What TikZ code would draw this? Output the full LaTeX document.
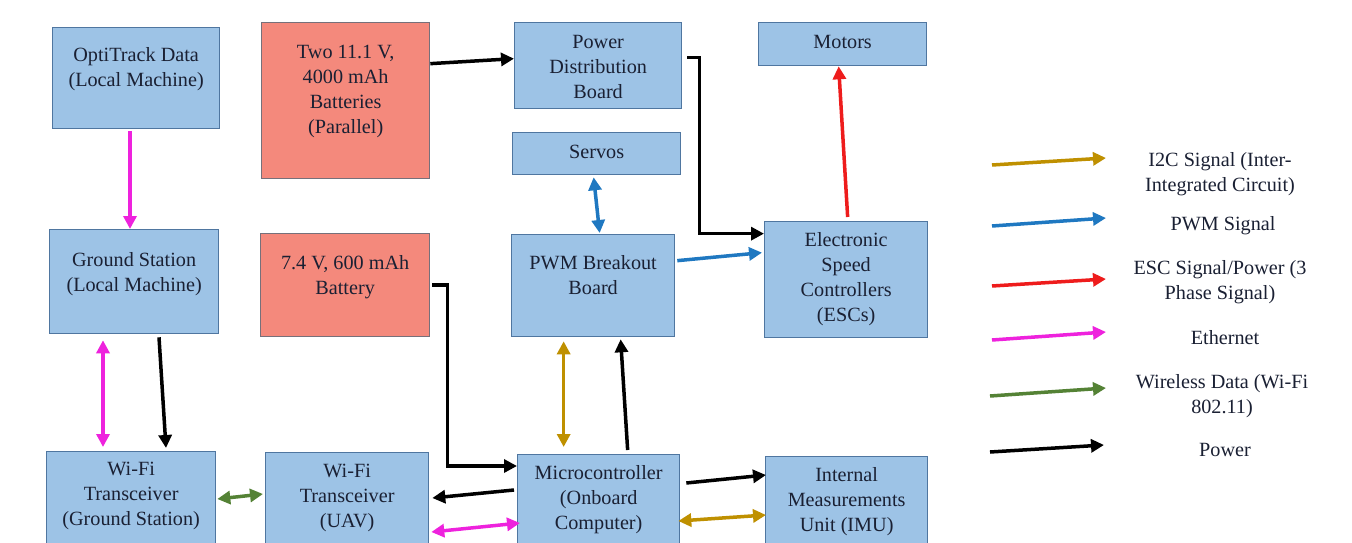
\documentclass[tikz,border=0pt]{standalone}
\usepackage{fontspec}
\setmainfont{Liberation Serif}
\newfontfamily\diagfont{Liberation Serif}
\usetikzlibrary{arrows.meta}

\definecolor{boxblue}{HTML}{9DC3E6}
\definecolor{boxedge}{HTML}{4F76A0}
\definecolor{battfill}{HTML}{F4897C}
\definecolor{battedge}{HTML}{76707A}
\definecolor{txt}{HTML}{1A2033}
\definecolor{igold}{HTML}{BF9000}
\definecolor{pwmblue}{HTML}{1F78C1}
\definecolor{escred}{HTML}{EE1C1C}
\definecolor{ethmag}{HTML}{EE22DD}
\definecolor{wifigreen}{HTML}{548235}

\tikzset{
  unit/.style={draw=boxedge, fill=boxblue, line width=1.3pt, inner sep=0pt, anchor=north west},
  batt/.style={draw=battedge, fill=battfill, line width=1.3pt, inner sep=0pt, anchor=north west},
  lbl/.style={text=txt, align=center, inner sep=0pt, anchor=north,
    font={\diagfont\fontsize{20.2}{25}\selectfont}},
  tipx/.tip={Triangle[length=13pt,width=13pt]},
  wire/.style={line width=3.5pt, -tipx},
  wire2/.style={line width=3.5pt, tipx-tipx},
  power/.style={wire, draw=black},
  powerpath/.style={power, rounded corners=0pt},
  i2c/.style={wire2, draw=igold},
  pwm/.style={wire, draw=pwmblue},
  pwmdbl/.style={wire2, draw=pwmblue},
  esc/.style={wire, draw=escred},
  eth/.style={wire, draw=ethmag},
  ethdbl/.style={wire2, draw=ethmag},
  wifi/.style={wire2, draw=wifigreen},
}

% box: style, name, x1, y1, x2, y2 (pixel-style coordinates, y downwards)
\newcommand\mkbox[6]{%
  \node[#1, minimum width={(#5-#3)*1pt}, minimum height={(#6-#4)*1pt}]
    (#2) at (#3,-#4) {};}
% caption inside a box: name, offset of first line from the top, text
\newcommand\boxtext[3]{%
  \node[lbl] (#1-t) at ([yshift={(11-#2)*1pt}]#1.north) {\strut #3};}

\begin{document}
\begin{tikzpicture}[x=1pt,y=1pt]
\useasboundingbox (0,0) rectangle (1352,-543);
\clip (0,0) rectangle (1352,-543);
\fill[white] (0,0) rectangle (1352,-543);

% ---- blocks ----
\mkbox{unit}{opti}{52}{27}{219}{128}
\mkbox{batt}{bigbatt}{261}{22}{429}{178}
\mkbox{unit}{pdb}{514}{22}{681}{108}
\mkbox{unit}{motors}{758}{22}{926}{65}
\mkbox{unit}{servos}{512}{132}{680}{174}
\mkbox{unit}{gs}{49}{229}{218}{333}
\mkbox{batt}{smallbatt}{260}{233}{429}{336}
\mkbox{unit}{pwmb}{511}{234}{674}{336}
\mkbox{unit}{escs}{764}{221}{927}{337}
\mkbox{unit}{wgs}{46}{451}{215}{562}
\mkbox{unit}{wuav}{265}{452}{428}{562}
\mkbox{unit}{mcu}{517}{454}{679}{562}
\mkbox{unit}{imu}{765}{456}{927}{562}

\boxtext{opti}{28}{OptiTrack Data\\(Local Machine)}
\boxtext{bigbatt}{30}{Two 11.1 V,\\4000 mAh\\Batteries\\(Parallel)}
\boxtext{pdb}{20}{Power\\Distribution\\Board}
\boxtext{motors}{20}{Motors}
\boxtext{servos}{20}{Servos}
\boxtext{gs}{31}{Ground Station\\(Local Machine)}
\boxtext{smallbatt}{30}{7.4 V, 600 mAh\\Battery}
\boxtext{pwmb}{29}{PWM Breakout\\Board}
\boxtext{escs}{19}{Electronic\\Speed\\Controllers\\(ESCs)}
\boxtext{wgs}{18}{Wi-Fi\\Transceiver\\(Ground Station)}
\boxtext{wuav}{19}{Wi-Fi\\Transceiver\\(UAV)}
\boxtext{mcu}{19}{Microcontroller\\(Onboard\\Computer)}
\boxtext{imu}{19}{Internal\\Measurements\\Unit (IMU)}

% ---- connections ----
\draw[eth] ([xshift=78pt,yshift=-2pt]opti.south west) -- ([xshift=81pt]gs.north west);
\draw[ethdbl] ([xshift=54pt,yshift=-6pt]gs.south west) -- ([xshift=57pt,yshift=4pt]wgs.north west);
\draw[power] ([xshift=110pt,yshift=-3pt]gs.south west) -- ([xshift=120pt,yshift=3pt]wgs.north west);
\draw[wifi] ([xshift=1pt,yshift=-48pt]wgs.north east) -- ([xshift=-2pt,yshift=-42pt]wuav.north west);

\draw[power] ([yshift=37pt]bigbatt.east) -- ([yshift=7pt]pdb.west);
\draw[powerpath] ([xshift=5pt,yshift=8pt]pdb.east) -- ++(12pt,0) |- ([yshift=46pt]escs.west);
\draw[esc] ([xshift=1.5pt,yshift=4pt]escs.north) -- ([xshift=-4pt]motors.south);
\draw[pwmdbl] ([xshift=6.5pt,yshift=1pt]pwmb.north) -- ([xshift=-3pt,yshift=-2pt]servos.south);
\draw[pwm] ([xshift=2pt,yshift=25pt]pwmb.east) -- ([xshift=-2pt,yshift=27pt]escs.west);

\draw[powerpath] ([xshift=2pt]smallbatt.east) -- ++(15pt,0) |- ([yshift=-12pt]mcu.north west);
\draw[i2c] ([xshift=-29.5pt,yshift=-4pt]pwmb.south) -- ([xshift=-35pt,yshift=7pt]mcu.north);
\draw[power] ([xshift=29pt,yshift=4pt]mcu.north) -- ([xshift=27.5pt,yshift=-2pt]pwmb.south);
\draw[power] ([xshift=6pt,yshift=-29pt]mcu.north east) -- ([xshift=1pt,yshift=-19pt]imu.north west);
\draw[i2c] ([xshift=-2pt,yshift=-67pt]mcu.north east) -- ([xshift=1pt,yshift=-59pt]imu.north west);
\draw[power] ([xshift=-3pt,yshift=-36pt]mcu.north west) -- ([xshift=3pt,yshift=-46pt]wuav.north east);
\draw[ethdbl] ([xshift=2pt,yshift=-80pt]wuav.north east) -- ([xshift=3pt,yshift=-69pt]mcu.north west);

% ---- legend ----
\coordinate (k1a) at (992,-165);  \coordinate (k1b) at (1106,-158);
\coordinate (k2a) at (992,-226);  \coordinate (k2b) at (1106,-218);
\coordinate (k3a) at (992,-286);  \coordinate (k3b) at (1106,-279);
\coordinate (k4a) at (992,-340);  \coordinate (k4b) at (1106,-332);
\coordinate (k5a) at (990,-396);  \coordinate (k5b) at (1106,-388);
\coordinate (k6a) at (990,-452);  \coordinate (k6b) at (1104,-445);
\draw[wire, draw=igold] (k1a) -- (k1b);
\draw[pwm] (k2a) -- (k2b);
\draw[esc] (k3a) -- (k3b);
\draw[eth] (k4a) -- (k4b);
\draw[wire, draw=wifigreen] (k5a) -- (k5b);
\draw[power] (k6a) -- (k6b);

\node[lbl] (k1t) at (1220,-149) {\strut I2C Signal (Inter-\\Integrated Circuit)};
\node[lbl] (k2t) at (1223,-213) {\strut PWM Signal};
\node[lbl] (k3t) at (1220,-257) {\strut ESC Signal/Power (3\\Phase Signal)};
\node[lbl] (k4t) at (1225,-327) {\strut Ethernet};
\node[lbl] (k5t) at (1222,-371) {\strut Wireless Data (Wi-Fi\\802.11)};
\node[lbl] (k6t) at (1225,-439) {\strut Power};
\end{tikzpicture}
\end{document}
